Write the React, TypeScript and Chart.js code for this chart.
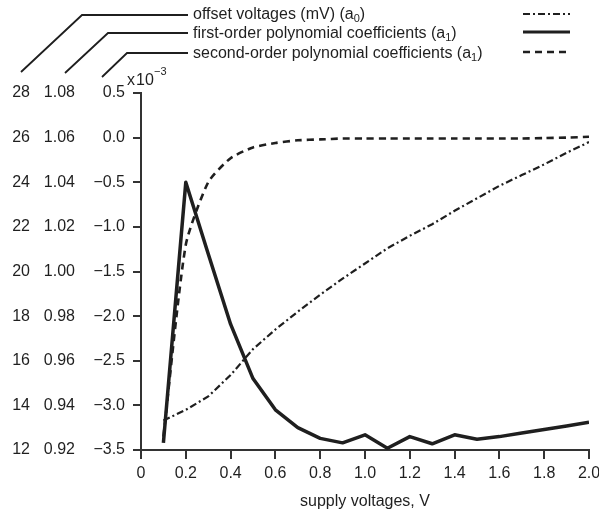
import React, { useEffect, useRef } from "react";
import { Chart, registerables } from "chart.js";

Chart.register(...registerables);

// ---- data ----
const supplyVoltages = [0.1, 0.2, 0.3, 0.4, 0.5, 0.6, 0.7, 0.8, 0.9, 1.0, 1.1, 1.2, 1.3, 1.4, 1.5, 1.6, 1.7, 1.8, 1.9, 2.0];
// offset voltages (mV) (a0) — left-most axis 12..28
const offsetVoltages = [13.32, 13.8, 14.4, 15.36, 16.52, 17.4, 18.2, 18.96, 19.68, 20.36, 21.04, 21.6, 22.12, 22.72, 23.28, 23.84, 24.32, 24.8, 25.32, 25.8];
// first-order polynomial coefficients (a1) — middle axis 0.92..1.08
const firstOrderCoeffs = [0.9232, 1.04, 1.008, 0.9764, 0.952, 0.938, 0.93, 0.9252, 0.9232, 0.9268, 0.9208, 0.926, 0.9228, 0.9268, 0.9248, 0.926, 0.9276, 0.9292, 0.9308, 0.9324];
// second-order polynomial coefficients (x10^-3) — inner axis -3.5..0.5
const secondOrderCoeffs = [-3.35, -1.2, -0.5, -0.23, -0.11, -0.06, -0.03, -0.02, -0.01, -0.01, -0.01, -0.01, -0.01, -0.01, -0.01, -0.01, -0.01, -0.005, 0.0, 0.01];

const legendLabels = [
  { main: "offset voltages (mV) (a", sub: "0", end: ")" },
  { main: "first-order polynomial coefficients (a", sub: "1", end: ")" },
  { main: "second-order polynomial coefficients (a", sub: "1", end: ")" },
];
const xTitle = "supply voltages, V";

const INK = "#1f1f1f";
const FONT = '"Liberation Sans", Arial, sans-serif';
const DASH_DOT = [7, 3, 2, 3];
const DASHED = [7, 5];

function minus(v: number, digits: number): string {
  const s = Math.abs(v).toFixed(digits);
  if (Math.abs(v) < 1e-9) return (0).toFixed(digits);
  return v < 0 ? "\u2212" + s : s;
}

const overlayPlugin = {
  id: "overlay",
  afterDraw(chart: any) {
    const ctx = chart.ctx as CanvasRenderingContext2D;
    ctx.save();
    ctx.strokeStyle = INK;
    ctx.fillStyle = INK;
    ctx.lineWidth = 1.8;
    ctx.lineCap = "butt";
    const leaders = [
      [21, 72, 82, 15, 188, 15],
      [65, 73, 108, 33, 188, 33],
      [102, 77, 127, 53, 188, 53],
    ];
    leaders.forEach((l) => {
      ctx.beginPath();
      ctx.moveTo(l[0], l[1]);
      ctx.lineTo(l[2], l[3]);
      ctx.lineTo(l[4], l[5]);
      ctx.stroke();
    });
    // legend texts
    ctx.textBaseline = "middle";
    ctx.textAlign = "left";
    const textYs = [15, 34, 54];
    legendLabels.forEach((lab, i) => {
      let x = 193;
      const y = textYs[i];
      ctx.font = `16px ${FONT}`;
      ctx.fillText(lab.main, x, y);
      x += ctx.measureText(lab.main).width;
      ctx.font = `11px ${FONT}`;
      ctx.fillText(lab.sub, x, y + 4);
      x += ctx.measureText(lab.sub).width;
      ctx.font = `16px ${FONT}`;
      ctx.fillText(lab.end, x, y);
    });
    // legend samples
    const samples = [
      { y: 14, dash: DASH_DOT, w: 2.2 },
      { y: 32, dash: [], w: 2.8 },
      { y: 52, dash: DASHED, w: 2.5 },
    ];
    samples.forEach((s) => {
      ctx.beginPath();
      ctx.setLineDash(s.dash);
      ctx.lineWidth = s.w;
      ctx.moveTo(523, s.y);
      ctx.lineTo(570, s.y);
      ctx.stroke();
    });
    ctx.setLineDash([]);
    // x 10^-3
    ctx.textBaseline = "alphabetic";
    ctx.font = `16px ${FONT}`;
    ctx.fillText("x", 127, 85);
    ctx.fillText("10", 136, 85);
    ctx.font = `11px ${FONT}`;
    ctx.fillText("\u22123", 154, 75);
    ctx.restore();
  },
};

export default function App() {
  const canvasRef = useRef<HTMLCanvasElement | null>(null);

  useEffect(() => {
    const canvas = canvasRef.current;
    if (!canvas) return;
    const mk = (vals: number[]) => supplyVoltages.map((x, i) => ({ x, y: vals[i] }));
    const tickFont = { family: FONT, size: 16 };
    const chart = new Chart(canvas, {
      type: "line",
      data: {
        datasets: [
          {
            label: "offset voltages (mV) (a0)",
            data: mk(offsetVoltages),
            yAxisID: "yOffset",
            borderColor: INK,
            borderWidth: 2.2,
            borderDash: DASH_DOT,
            pointRadius: 0,
            tension: 0,
          },
          {
            label: "first-order polynomial coefficients (a1)",
            data: mk(firstOrderCoeffs),
            yAxisID: "yFirst",
            borderColor: INK,
            borderWidth: 3.5,
            borderJoinStyle: "round",
            pointRadius: 0,
            tension: 0,
          },
          {
            label: "second-order polynomial coefficients (a1)",
            data: mk(secondOrderCoeffs),
            yAxisID: "ySecond",
            borderColor: INK,
            borderWidth: 2.6,
            borderDash: DASHED,
            pointRadius: 0,
            tension: 0.2,
          },
        ],
      },
      options: {
        responsive: false,
        animation: false,
        devicePixelRatio: 1,
        layout: { padding: { left: 0, top: 93, right: 10, bottom: 0 } },
        plugins: { legend: { display: false }, tooltip: { enabled: false } },
        scales: {
          x: {
            type: "linear",
            min: 0,
            max: 2,
            ticks: {
              stepSize: 0.2,
              color: INK,
              font: tickFont,
              padding: 5,
              maxRotation: 0,
              autoSkip: false,
              callback: (v: any) => (Number(v) === 0 ? "0" : Number(v).toFixed(1)),
            },
            grid: { drawOnChartArea: false, drawTicks: true, tickLength: 9, color: "#333", lineWidth: 2 },
            border: { display: true, color: "#333", width: 2 },
            title: { display: true, text: xTitle, color: INK, font: { family: FONT, size: 16 }, padding: { top: 0, bottom: 0 } },
            afterFit: (s: any) => { s.height = 61; s.paddingRight = 0; s.paddingLeft = 0; },
          },
          ySecond: {
            type: "linear",
            position: "left",
            weight: 0,
            min: -3.5,
            max: 0.5,
            ticks: { stepSize: 0.5, color: INK, font: tickFont, padding: 8, autoSkip: false, callback: (v: any) => minus(Number(v), 1) },
            grid: { drawOnChartArea: false, drawTicks: true, tickLength: 8, color: "#333", lineWidth: 2 },
            border: { display: true, color: "#333", width: 2 },
            afterFit: (s: any) => { s.width = 50; },
          },
          yFirst: {
            type: "linear",
            position: "left",
            weight: 1,
            min: 0.92,
            max: 1.08,
            ticks: { stepSize: 0.02, color: INK, font: tickFont, padding: 16, autoSkip: false, callback: (v: any) => Number(v).toFixed(2) },
            grid: { display: false, drawOnChartArea: false, drawTicks: false },
            border: { display: false },
            afterFit: (s: any) => { s.width = 53; },
          },
          yOffset: {
            type: "linear",
            position: "left",
            weight: 2,
            min: 12,
            max: 28,
            ticks: { stepSize: 2, color: INK, font: tickFont, padding: 8, autoSkip: false, callback: (v: any) => String(Math.round(Number(v))) },
            grid: { display: false, drawOnChartArea: false, drawTicks: false },
            border: { display: false },
            afterFit: (s: any) => { s.width = 38; },
          },
        },
      },
      plugins: [overlayPlugin],
    } as any);
    return () => chart.destroy();
  }, []);

  return (
    <div style={{ position: "fixed", left: 0, top: 0, width: 599, height: 511, background: "#fff" }}>
      <canvas ref={canvasRef} width={599} height={511} style={{ display: "block" }} />
    </div>
  );
}
